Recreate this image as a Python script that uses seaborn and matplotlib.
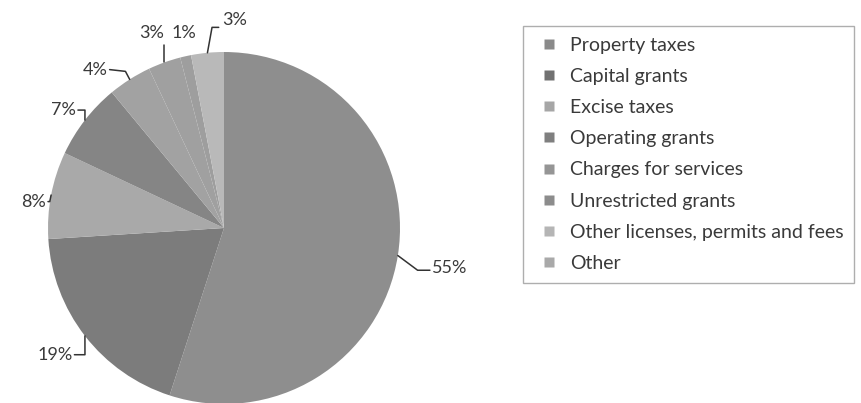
import matplotlib.pyplot as plt
import numpy as np
import seaborn as sns
from matplotlib.lines import Line2D


# %% data
categories = [
    "Property taxes",
    "Capital grants",
    "Excise taxes",
    "Operating grants",
    "Charges for services",
    "Unrestricted grants",
    "Other licenses, permits and fees",
    "Other",
]
shares = [55, 19, 8, 7, 4, 3, 1, 3]
pct_labels = ["55%", "19%", "8%", "7%", "4%", "3%", "1%", "3%"]

colors = ["#8e8e8e", "#7c7c7c", "#a9a9a9", "#858585",
          "#a2a2a2", "#a0a0a0", "#9e9e9e", "#b9b9b9"]

# label text position, alignment and leader elbow (None = no leader)
label_pos = [
    ((1.18, -0.23), "left", (1.10, -0.24)),
    ((-0.86, -0.72), "right", (-0.79, -0.72)),
    ((-1.01, 0.15), "right", (-0.99, 0.15)),
    ((-0.84, 0.67), "right", (-0.79, 0.67)),
    ((-0.66, 0.90), "right", (-0.56, 0.89)),
    ((-0.41, 1.11), "center", (-0.34, 1.04)),
    ((-0.23, 1.11), "center", None),
    ((-0.01, 1.18), "left", (-0.068, 1.14)),
]

sns.set_theme(style="white")
plt.rcParams["font.family"] = ["Lato", "DejaVu Sans"]
text_color = "#3a3a3a"

fig = plt.figure(figsize=(8.61, 4.03), dpi=100)
ax = fig.add_axes([48 / 861, -1 / 403, 352 / 861, 352 / 403])

wedges, _ = ax.pie(
    shares,
    colors=colors,
    startangle=90,
    counterclock=False,
    radius=1,
    wedgeprops=dict(linewidth=0),
)
ax.set_xlim(-1, 1)
ax.set_ylim(-1, 1)
ax.set_aspect("equal")
ax.axis("off")

# labels with elbow leaders
for w, lab, (tpos, ha, elbow) in zip(wedges, pct_labels, label_pos):
    mid = np.deg2rad((w.theta1 + w.theta2) / 2)
    anchor = (np.cos(mid), np.sin(mid))
    ax.text(tpos[0], tpos[1], lab, ha=ha, va="center", fontsize=13,
            color=text_color, clip_on=False)
    if elbow is None:
        continue
    if ha == "center":
        xs = [anchor[0], anchor[0]]
        ys = [anchor[1], elbow[1]]
    elif ha == "left" and tpos[1] > 1:
        xs = [anchor[0], elbow[0], tpos[0] - 0.02]
        ys = [anchor[1], elbow[1], elbow[1]]
    elif ha == "left":
        xs = [anchor[0], elbow[0], tpos[0] - 0.01]
        ys = [anchor[1], elbow[1], elbow[1]]
    else:
        xs = [anchor[0], elbow[0], tpos[0] + 0.01]
        ys = [anchor[1], elbow[1], tpos[1]]
    ax.plot(xs, ys, color="#333333", linewidth=1.1, clip_on=False)

# legend
legend_colors = ["#8a8a8a", "#717171", "#a6a6a6", "#7f7f7f",
                 "#959595", "#8c8c8c", "#b5b5b5", "#a9a9a9"]
handles = [Line2D([], [], marker="s", linestyle="none", markersize=6.5,
                  markerfacecolor=c, markeredgecolor="none", label=n)
           for c, n in zip(legend_colors, categories)]
leg = fig.legend(
    handles=handles,
    loc="upper left",
    bbox_to_anchor=(523 / 861, 1 - 26 / 403),
    fontsize=14,
    frameon=True,
    fancybox=False,
    handlelength=1.55,
    handletextpad=0.3,
    labelspacing=0.73,
    borderpad=0.55,
    borderaxespad=0,
)
leg.get_frame().set_edgecolor("#9a9a9a")
leg.get_frame().set_linewidth(1.0)
for t in leg.get_texts():
    t.set_color(text_color)

plt.savefig("out.png", dpi=100)
